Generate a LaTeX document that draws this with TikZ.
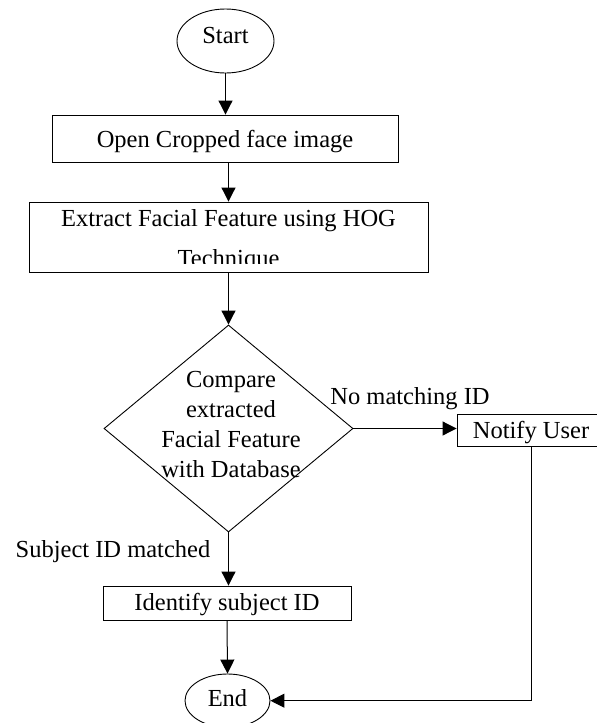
\documentclass[tikz,border=0pt]{standalone}
\usepackage{fontspec}
\setmainfont{Liberation Serif}
\usetikzlibrary{shapes.geometric,arrows.meta}
\begin{document}
\begin{tikzpicture}[x=1pt,y=-1pt,
  font=\fontsize{24.5}{30}\selectfont,
  shp/.style={draw,line width=0.9pt,inner sep=0pt},
  tb/.style={text height=#1,text depth=0pt},
  arr/.style={line width=1pt,-{Triangle[length=14pt,width=14pt]}},
  lbl/.style={anchor=base,inner sep=0pt}]
\useasboundingbox (0,0) rectangle (597,723);
\node[ellipse,shp,minimum width=97pt,minimum height=64pt,tb=4.6pt] (start) at (225.5,41) {Start};
\node[shp,minimum width=346pt,minimum height=47pt,tb=17pt] (b1) at (225,138.5) {Open Cropped face image};
\node[shp,minimum width=399pt,minimum height=70pt] (b2) at (228.5,237) {};
\begin{scope}
  \clip (b2.north west) rectangle ([yshift=9pt]b2.south east);
  \node[lbl] (b2a) at (228.5,226) {Extract Facial Feature using HOG};
  \node[lbl] (b2b) at (228.5,266) {Technique};
\end{scope}
\node[diamond,shp,minimum width=249pt,minimum height=207pt] (dia) at (228.5,428.5) {};
\node[align=center,inner sep=0pt] (diat) at (231,425) {Compare\\extracted\\Facial Feature\\with Database};
\node[shp,minimum width=148pt,minimum height=32pt,tb=16.6pt] (nu) at (531,430) {Notify User};
\node[shp,minimum width=248pt,minimum height=34pt,tb=14pt] (idn) at (227,603) {Identify subject ID};
\node[ellipse,shp,minimum width=85pt,minimum height=53.4pt,tb=12pt] (end) at (227.5,700.7) {End};
\node[lbl] (lno) at (410,404) {No matching ID};
\node[lbl] (lyes) at (113,557.3) {Subject ID matched};
\draw[arr] (start.south) -- (start.south |- b1.north);
\draw[arr] (b1.south -| b2.north) -- (b2.north);
\draw[arr] (b2.south) -- (dia.north);
\draw[arr] (dia.east) -- (dia.east -| nu.west);
\draw[arr] (dia.south) -- (dia.south |- idn.north);
\draw[arr] (idn.south) -- (end.north);
\draw[arr] (nu.south) |- (end.east);
\end{tikzpicture}
\end{document}
